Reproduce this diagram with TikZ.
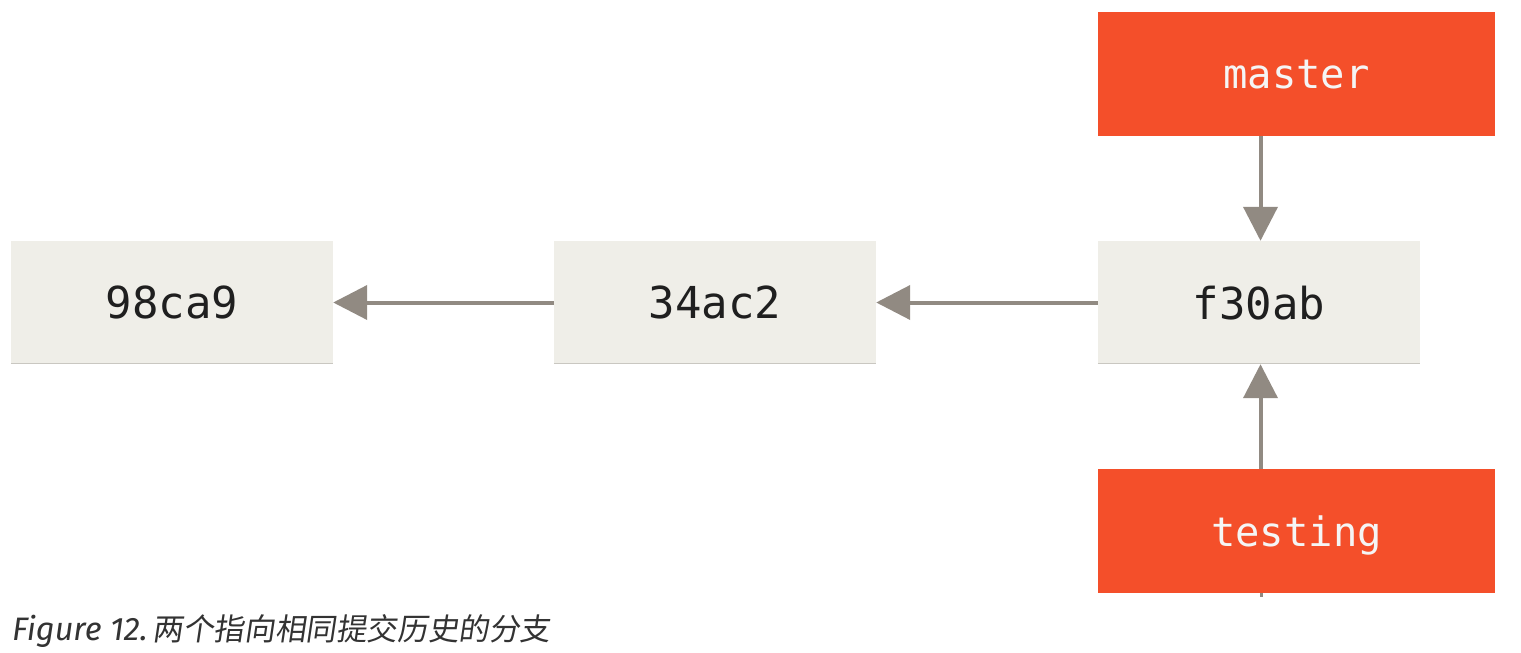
\documentclass[tikz,border=0pt]{standalone}
\usepackage{fontspec}
\setmainfont{Fira Sans}
\setmonofont{DejaVu Sans Mono}
\newfontfamily\cjk[FakeSlant=0.15]{Noto Sans CJK SC}
\usetikzlibrary{arrows.meta}
\definecolor{commitfill}{HTML}{EFEEE8}
\definecolor{commitline}{HTML}{C9C7C1}
\definecolor{branchred}{HTML}{F44F2A}
\definecolor{arrowgray}{HTML}{918A82}
\definecolor{captiongray}{HTML}{333333}
\tikzset{
  commit/.style={rectangle, fill=commitfill, minimum width=322pt, minimum height=123pt,
    inner sep=0pt, text depth=0pt, font=\fontsize{44pt}{50pt}\selectfont\ttfamily, text=black!88},
  branch/.style={rectangle, fill=branchred, minimum width=397pt, minimum height=124pt,
    inner sep=0pt, text depth=0pt, font=\fontsize{40.5pt}{46pt}\selectfont\ttfamily, text=white!96!black},
  edge/.style={draw=arrowgray, line width=4pt, -{Triangle[length=34pt, width=34pt]}, arrowgray},
  bottomline/.style={draw=commitline, line width=1.5pt}
}
\begin{document}
\begin{tikzpicture}[x=1pt, y=-1pt]
\useasboundingbox (0,0) rectangle (1521,653);
\node[commit] (c1) at (172,302.5) {98ca9};
\node[commit] (c2) at (715,302.5) {34ac2};
\node[commit] (c3) at (1259,302.5) {f30ab};
\node[branch] (master) at (1296.5,74) {master};
\node[branch] (testing) at (1296.5,531) {testing};
\draw[bottomline] ([yshift=0.75pt]c1.south west) -- ([yshift=0.75pt]c1.south east);
\draw[bottomline] ([yshift=0.75pt]c2.south west) -- ([yshift=0.75pt]c2.south east);
\draw[bottomline] ([yshift=0.75pt]c3.south west) -- ([yshift=0.75pt]c3.south east);
\draw[edge] (c2.west) -- (c1.east);
\draw[edge] (c3.west) -- (c2.east);
\draw[edge] ([xshift=1.5pt]c3.north |- master.south) -- ([xshift=1.5pt]c3.north);
\draw[edge] ([xshift=1.5pt]c3.south |- testing.north) -- ([xshift=1.5pt]c3.south);
\fill[arrowgray] (1259.5,593) rectangle (1262.5,597);
\node[anchor=base west, inner sep=0pt, text=captiongray,
  font=\fontsize{32.5pt}{38pt}\selectfont] (caption) at (12,640)
  {\itshape Figure 12.\kern5pt{\fontsize{30.6pt}{38pt}\selectfont\cjk 两个指向相同提交历史的分支}};
\end{tikzpicture}
\end{document}
